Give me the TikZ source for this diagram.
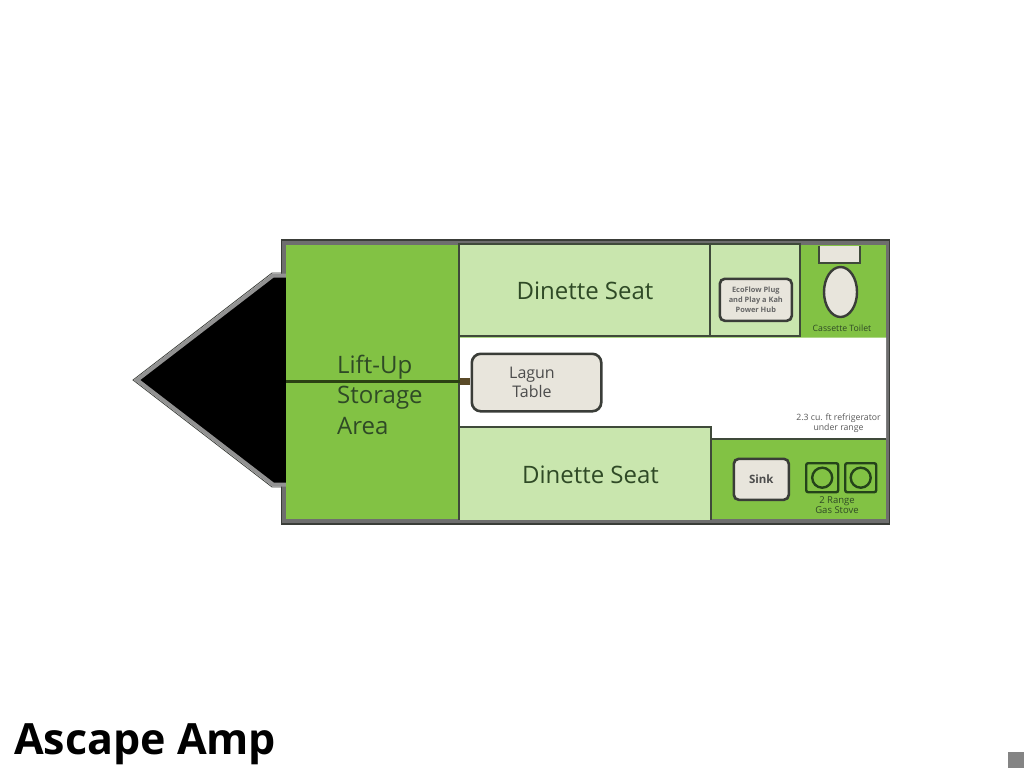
\documentclass[tikz,border=0pt]{standalone}
\usepackage{fontspec}
\usetikzlibrary{shapes.geometric}
\setmainfont{Open Sans}
\definecolor{grn}{HTML}{82C244}
\definecolor{lgrn}{HTML}{C9E6AE}
\definecolor{wall}{HTML}{3F4A3A}
\definecolor{frame}{HTML}{6E6E6E}
\definecolor{edgec}{HTML}{3A3D38}
\definecolor{fixt}{HTML}{E8E5DC}
\definecolor{lbl}{HTML}{2F4A26}
\definecolor{hinge}{HTML}{5A4A28}
\definecolor{burnerc}{HTML}{24431A}
\tikzset{
  x=1pt,y=-1pt,
  room/.style={draw=wall,line width=2pt},
  fixture/.style={draw=edgec,line width=2.6pt,fill=fixt,rounded corners=5pt,inner sep=0pt,align=center},
  bigtxt/.style={text=lbl,font=\fontsize{24}{24}\selectfont,inner sep=0pt},
  storagetxt/.style={text=lbl,font=\fontsize{24}{30.5}\selectfont,inner sep=0pt,align=left,anchor=north west},
  tinytxt/.style={text=lbl,font=\fontsize{8.7}{10}\selectfont,inner sep=0pt,align=center},
  burner/.style={draw=burnerc,line width=2.4pt,inner sep=0pt}
}
\begin{document}
\begin{tikzpicture}
\useasboundingbox (0,0) rectangle (1024,768);
\fill[white] (0,0) rectangle (1024,768);
% body frame
\fill[frame] (281,239) rectangle (890,525);
\draw[edgec,line width=1.4pt] (281.7,240) rectangle (889.3,524);
% tongue
\draw[edgec,line width=0.8pt] (281,273) -- (272,273) -- (133,380) -- (272,487) -- (281,487);
\draw[draw=frame!75,line width=4pt,fill=black,miter limit=10,line join=miter] (287,275.5) -- (273,275.5) -- (137,380) -- (273,484.5) -- (287,484.5);
% interior
\fill[grn] (286,245) rectangle (886,519);
% rooms
\draw[room,fill=lgrn] (459,244) rectangle (710,336);
\draw[room,fill=lgrn] (710,244) rectangle (800,336);
\fill[white] (460,337.5) -- (886,337.5) -- (886,438.5) -- (711,438.5) -- (711,426.5) -- (460,426.5) -- cycle;
\draw[room,fill=lgrn] (459,519.5) -- (459,427) -- (711,427) -- (711,519.5);
\draw[room] (711,439) -- (886,439);
\draw[room] (459,244) -- (459,520);
% storage divider and hinge
\coordinate (stL) at (286,381.5);
\coordinate (stR) at (460,381.5);
\draw[hinge!80!green!60!black,line width=3pt] (stL) -- (stR);
\node[fixture,minimum width=129.5pt,minimum height=57.5pt,rounded corners=9pt,anchor=north west] (table) at (470.5,352.5) {};
\node[inner sep=0pt,align=center,font=\fontsize{16}{19}\selectfont,text=black!70] (tablelabel) at (532,382) {Lagun\\Table};
\node[fill=hinge,inner sep=0pt,minimum width=10pt,minimum height=7pt] (hingebox) at (465,381.5) {};
% labels
\node[storagetxt] (storage) at (337,354.5) {Lift-Up\\Storage\\Area};
\node[bigtxt] (dinetteA) at (585,291) {Dinette Seat};
\node[bigtxt] (dinetteB) at (590.5,474.5) {Dinette Seat};
% top right
\node[fixture,minimum width=72pt,minimum height=42pt,anchor=north west,font=\fontsize{7.4}{10}\selectfont\bfseries,text=black!60] (hub) at (718.5,277.5) {EcoFlow Plug\\and Play a Kah\\Power Hub};
\draw[room,line width=2.4pt,fill=fixt] (819,245.5) -- (819,263) -- (860,263) -- (860,245.5);
\node[draw=edgec,line width=2.4pt,fill=fixt,ellipse,minimum width=33pt,minimum height=50pt,inner sep=0pt] (bowl) at (840.5,292) {};
\node[tinytxt] (toilet) at (842,328) {Cassette Toilet};
% fridge
\node[tinytxt,text=black!65] (fridge) at (838.5,423) {2.3 cu. ft refrigerator\\under range};
% sink
\node[fixture,minimum width=55pt,minimum height=41pt,anchor=north west,font=\fontsize{11.5}{12}\selectfont\bfseries,text=black!70] (sink) at (732.5,457.5) {Sink};
% stove
\node[burner,rounded corners=2pt,minimum width=32pt,minimum height=29pt,anchor=north west] (bA) at (805,462) {};
\node[burner,rounded corners=2pt,minimum width=31pt,minimum height=29pt,anchor=north west] (bB) at (844,462) {};
\node[burner,circle,minimum size=20pt] (cA) at (bA.center) {};
\node[burner,circle,minimum size=20pt] (cB) at (bB.center) {};
\node[tinytxt,font=\fontsize{9.5}{10}\selectfont] (stove) at (837,505) {2 Range\\Gas Stove};
% title
\node[anchor=base west,inner sep=0pt,font=\fontsize{43}{43}\selectfont\bfseries] (title) at (14,754) {Ascape Amp};
% corner mark
\fill[frame!85] (1008,752) rectangle (1024,768);
\end{tikzpicture}
\end{document}
